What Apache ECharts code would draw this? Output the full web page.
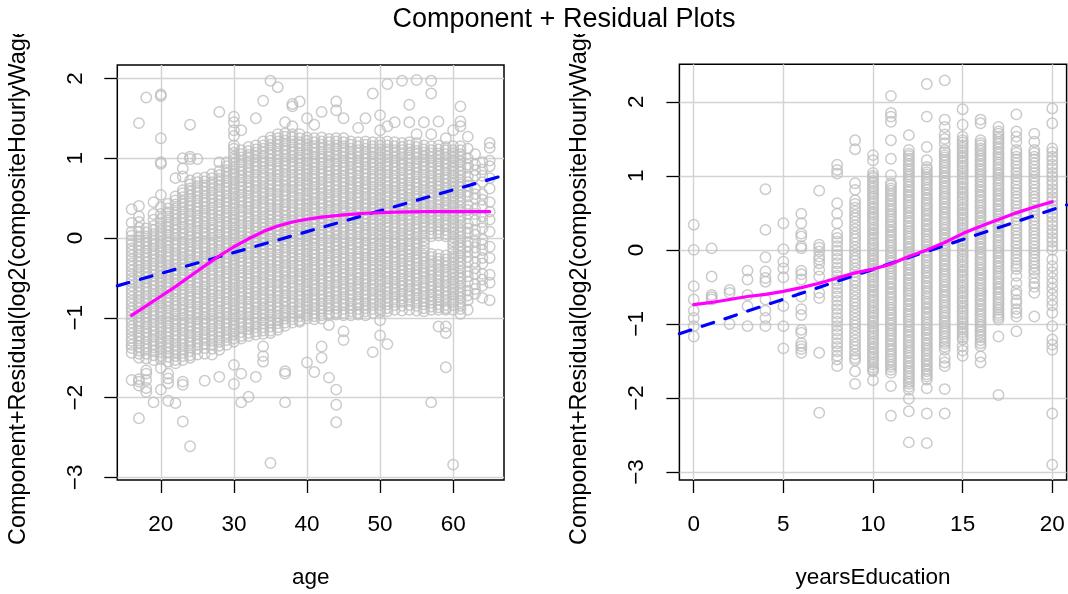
<!DOCTYPE html>
<html><head><meta charset="utf-8">
<script src="https://cdn.jsdelivr.net/npm/echarts@6/dist/echarts.min.js"></script>
<style>html,body{margin:0;padding:0;background:#fff}#c{width:1068px;height:594px}</style>
</head><body><div id="c"></div>
<script>
// ---------- data ----------
const titleText = 'Component + Residual Plots';
const yLabel = 'Component+Residual(log2(compositeHourlyWage))';
const ageName = 'age';
const eduName = 'yearsEducation';

const ageTicks = [20, 30, 40, 50, 60];
const ageYTicks = [-3, -2, -1, 0, 1, 2];
const eduTicks = [0, 5, 10, 15, 20];
const eduYTicks = [-3, -2, -1, 0, 1, 2];

// component+residual values, in hundredths, one list per age
const ageGroups = [16,17,18,19,20,21,22,23,24,25,26,27,28,29,30,31,32,33,34,35,36,37,38,39,40,41,42,43,44,45,46,47,48,49,50,51,52,53,54,55,56,57,58,59,60,61,62,63,64,65];
const ageResiduals100 = [
 [36,19,8,3,-3,-8,-13,-17,-22,-27,-32,-36,-41,-46,-51,-55,-60,-65,-69,-74,-79,-83,-88,-92,-97,-102,-106,-111,-115,-120,-125,-129,-134,-138,-144,-178],
 [144,40,27,20,13,8,2,-3,-8,-12,-17,-22,-27,-31,-36,-41,-46,-50,-55,-60,-65,-69,-74,-79,-84,-88,-93,-98,-103,-107,-112,-117,-122,-126,-131,-136,-141,-145,-150,-177,-180,-185,-226],
 [176,12,7,2,-3,-7,-12,-17,-22,-26,-31,-36,-41,-45,-50,-55,-60,-64,-69,-74,-79,-83,-88,-93,-98,-102,-107,-112,-117,-121,-126,-131,-136,-140,-145,-151,-166,-170,-178,-188,-193],
 [45,30,23,15,10,5,0,-4,-9,-14,-19,-23,-28,-33,-38,-42,-47,-52,-57,-61,-66,-71,-76,-80,-85,-90,-95,-99,-104,-109,-114,-118,-123,-128,-133,-137,-142,-147,-153,-206],
 [180,178,125,95,93,54,39,30,24,19,14,9,4,0,-5,-10,-15,-19,-24,-29,-34,-38,-43,-48,-53,-57,-62,-67,-72,-76,-81,-86,-91,-95,-100,-105,-110,-114,-119,-124,-129,-133,-138,-143,-148,-152,-163,-190],
 [43,37,32,27,22,17,13,8,3,-2,-6,-11,-16,-21,-25,-30,-35,-40,-44,-49,-54,-59,-63,-68,-73,-78,-82,-87,-92,-97,-101,-106,-111,-116,-120,-125,-130,-135,-139,-144,-149,-155,-170,-176,-182,-204],
 [75,52,47,42,37,32,28,23,18,13,9,4,-1,-6,-10,-15,-20,-25,-29,-34,-39,-44,-48,-53,-58,-63,-67,-72,-77,-82,-86,-91,-96,-101,-105,-110,-115,-120,-124,-129,-134,-139,-143,-148,-153,-157,-207],
 [100,87,77,60,56,51,46,42,37,32,27,23,18,13,8,4,-1,-6,-11,-15,-20,-25,-30,-34,-39,-44,-49,-53,-58,-63,-68,-72,-77,-82,-87,-91,-96,-101,-106,-110,-115,-120,-125,-129,-134,-139,-144,-148,-153,-180,-184,-230],
 [142,102,99,72,67,62,58,53,48,43,39,34,29,24,20,15,10,5,1,-4,-9,-14,-18,-23,-28,-33,-37,-42,-47,-52,-56,-61,-66,-71,-75,-80,-85,-90,-94,-99,-104,-109,-113,-118,-123,-128,-132,-137,-142,-147,-150,-261],
 [99,75,70,65,60,56,51,46,41,37,32,27,22,18,13,8,3,-1,-6,-11,-16,-20,-25,-30,-35,-39,-44,-49,-54,-58,-63,-68,-73,-77,-82,-87,-92,-96,-101,-106,-111,-115,-120,-125,-130,-134,-139,-146],
 [76,71,66,62,57,52,47,43,38,33,28,24,19,14,9,5,0,-5,-10,-14,-19,-24,-29,-33,-38,-43,-48,-52,-57,-62,-67,-71,-76,-81,-86,-90,-95,-100,-105,-109,-114,-119,-124,-128,-133,-138,-145,-179],
 [80,75,70,66,61,56,51,47,42,37,32,28,23,18,13,9,4,-1,-6,-10,-15,-20,-25,-29,-34,-39,-44,-48,-53,-58,-63,-67,-72,-77,-82,-86,-91,-96,-101,-105,-110,-115,-120,-124,-129,-134,-139,-146],
 [158,95,84,79,74,70,65,60,55,51,46,41,36,32,27,22,17,13,8,3,-2,-6,-11,-16,-21,-25,-30,-35,-40,-44,-49,-54,-59,-63,-68,-73,-78,-82,-87,-92,-97,-101,-106,-111,-116,-120,-125,-130,-135,-140,-174],
 [95,90,85,81,76,71,66,62,57,52,47,43,38,33,28,24,19,14,9,5,0,-5,-10,-14,-19,-24,-29,-33,-38,-43,-48,-52,-57,-62,-67,-71,-76,-81,-86,-90,-95,-100,-105,-109,-114,-119,-124,-128,-134],
 [152,145,135,128,116,112,107,102,98,93,88,83,79,74,69,64,60,55,50,45,41,36,31,26,22,17,12,7,3,-2,-7,-12,-16,-21,-26,-31,-35,-40,-45,-50,-54,-59,-64,-69,-73,-78,-83,-88,-92,-97,-102,-107,-111,-116,-121,-126,-130,-159,-183],
 [135,110,105,101,96,91,86,82,77,72,67,63,58,53,48,44,39,34,29,25,20,15,10,6,1,-4,-9,-13,-18,-23,-28,-32,-37,-42,-47,-51,-56,-61,-66,-70,-75,-80,-85,-89,-94,-99,-104,-108,-113,-118,-123,-126,-170,-206],
 [114,109,104,100,95,90,85,81,76,71,66,62,57,52,47,43,38,33,28,24,19,14,9,5,0,-5,-10,-14,-19,-24,-29,-33,-38,-43,-48,-52,-57,-62,-67,-71,-76,-81,-86,-90,-95,-100,-105,-109,-114,-119,-123,-199],
 [150,116,111,107,102,97,92,88,83,78,73,69,64,59,54,50,45,40,35,31,26,21,16,12,7,2,-3,-7,-12,-17,-22,-26,-31,-36,-41,-45,-50,-55,-60,-64,-69,-74,-79,-83,-88,-93,-98,-102,-107,-112,-117,-121,-174],
 [172,121,116,112,107,102,97,93,88,83,78,74,69,64,59,55,50,45,40,36,31,26,21,17,12,7,2,-2,-7,-12,-17,-21,-26,-31,-36,-40,-45,-50,-55,-59,-64,-69,-74,-78,-83,-88,-93,-97,-102,-107,-112,-116,-120,-136,-148,-155],
 [197,126,122,117,112,107,103,98,93,88,84,79,74,69,65,60,55,50,46,41,36,31,27,22,17,12,8,3,-2,-7,-11,-16,-21,-26,-30,-35,-40,-45,-49,-54,-59,-64,-68,-73,-78,-83,-87,-92,-97,-102,-106,-111,-116,-119,-282],
 [189,130,125,121,116,111,106,102,97,92,87,83,78,73,68,64,59,54,49,45,40,35,30,26,21,16,11,7,2,-3,-8,-12,-17,-22,-27,-31,-36,-41,-46,-50,-55,-60,-65,-69,-74,-79,-84,-88,-93,-98,-103,-107,-112,-115],
 [145,131,127,122,117,112,108,103,98,93,89,84,79,74,70,65,60,55,51,46,41,36,32,27,22,17,13,8,3,-2,-6,-11,-16,-21,-25,-30,-35,-40,-44,-49,-54,-59,-63,-68,-73,-78,-82,-87,-92,-97,-101,-106,-110,-167,-170,-206],
 [168,165,140,130,126,121,116,111,107,102,97,92,88,83,78,73,69,64,59,54,50,45,40,35,31,26,21,16,12,7,2,-3,-7,-12,-17,-22,-26,-31,-36,-41,-45,-50,-55,-60,-64,-69,-74,-79,-83,-88,-93,-98,-102,-106],
 [171,130,125,120,116,111,106,101,97,92,87,82,78,73,68,63,59,54,49,44,40,35,30,25,21,16,11,6,2,-3,-8,-13,-17,-22,-27,-32,-36,-41,-46,-51,-55,-60,-65,-70,-74,-79,-84,-89,-93,-98,-103,-105],
 [150,126,122,117,112,107,103,98,93,88,84,79,74,69,65,60,55,50,46,41,36,31,27,22,17,12,8,3,-2,-7,-11,-16,-21,-26,-30,-35,-40,-45,-49,-54,-59,-64,-68,-73,-78,-83,-87,-92,-97,-101,-156],
 [142,125,120,115,111,106,101,96,92,87,82,77,73,68,63,58,54,49,44,39,35,30,25,20,16,11,6,1,-3,-8,-13,-18,-22,-27,-32,-37,-41,-46,-51,-56,-60,-65,-70,-75,-79,-84,-89,-94,-98,-102,-168],
 [158,126,121,117,112,107,102,98,93,88,83,79,74,69,64,60,55,50,45,41,36,31,26,22,17,12,7,3,-2,-7,-12,-16,-21,-26,-31,-35,-40,-45,-50,-54,-59,-64,-69,-73,-78,-83,-88,-92,-97,-101,-136,-150],
 [124,120,115,110,105,101,96,91,86,82,77,72,67,63,58,53,48,44,39,34,29,25,20,15,10,6,1,-4,-9,-13,-18,-23,-28,-32,-37,-42,-47,-51,-56,-61,-66,-70,-75,-80,-85,-89,-94,-97,-109,-175],
 [171,160,125,121,116,111,106,102,97,92,87,83,78,73,68,64,59,54,49,45,40,35,30,26,21,16,11,7,2,-3,-8,-12,-17,-22,-27,-31,-36,-41,-46,-50,-55,-60,-65,-69,-74,-79,-84,-88,-93,-96,-190,-209,-231],
 [150,125,120,115,110,106,101,96,91,87,82,77,72,68,63,58,53,49,44,39,34,30,25,20,15,11,6,1,-4,-8,-13,-18,-23,-27,-32,-37,-42,-46,-51,-56,-61,-65,-70,-75,-80,-84,-89,-94,-97,-117,-128],
 [121,117,112,107,102,98,93,88,83,79,74,69,64,60,55,50,45,41,36,31,26,22,17,12,7,3,-2,-7,-12,-16,-21,-26,-31,-35,-40,-45,-50,-54,-59,-64,-69,-73,-78,-83,-88,-92,-97],
 [138,120,115,110,106,101,96,91,87,82,77,72,68,63,58,53,49,44,39,34,30,25,20,15,11,6,1,-4,-8,-13,-18,-23,-27,-32,-37,-42,-46,-51,-56,-61,-65,-70,-75,-80,-84,-89,-94,-96],
 [150,121,117,112,107,102,98,93,88,83,79,74,69,64,60,55,50,45,41,36,31,26,22,17,12,7,3,-2,-7,-12,-16,-21,-26,-31,-35,-40,-45,-50,-54,-59,-64,-69,-73,-78,-83,-88,-92,-97],
 [181,120,115,111,106,101,96,92,87,82,77,73,68,63,58,54,49,44,39,35,30,25,20,16,11,6,1,-3,-8,-13,-18,-22,-27,-32,-37,-41,-46,-51,-56,-60,-65,-70,-75,-79,-84,-89,-94,-143],
 [154,135,120,116,111,106,101,97,92,87,82,78,73,68,63,59,54,49,44,40,35,30,25,21,16,11,6,2,-3,-8,-13,-17,-22,-27,-32,-36,-41,-46,-51,-55,-60,-65,-70,-74,-79,-84,-89,-93,-103,-122],
 [193,140,121,116,111,107,102,97,92,88,83,78,73,69,64,59,54,50,45,40,35,31,26,21,16,12,7,2,-3,-7,-12,-17,-22,-26,-31,-36,-41,-45,-50,-55,-60,-64,-69,-74,-79,-83,-88,-92,-133],
 [145,120,115,110,106,101,96,91,87,82,77,72,68,63,58,53,49,44,39,34,30,25,20,15,11,6,1,-4,-8,-13,-18,-23,-27,-32,-37,-42,-46,-51,-56,-61,-65,-70,-75,-80,-84,-90],
 [197,119,114,110,105,100,95,91,86,81,76,72,67,62,57,53,48,43,38,34,29,24,19,15,10,5,0,-4,-9,-14,-19,-23,-28,-33,-38,-42,-47,-52,-57,-61,-66,-71,-76,-80,-85,-91],
 [167,145,120,116,111,106,101,97,92,87,82,78,73,68,63,59,54,49,44,40,35,30,25,21,16,11,6,2,-3,-8,-13,-17,-22,-27,-32,-36,-41,-46,-51,-55,-60,-65,-70,-74,-79,-84,-90],
 [198,130,119,114,109,105,100,95,90,86,81,76,71,67,62,57,52,48,43,38,33,29,24,19,14,10,5,0,-5,-9,-14,-19,-24,-28,-33,-38,-43,-47,-52,-57,-62,-66,-71,-76,-81,-85,-91],
 [145,116,111,107,102,97,92,88,83,78,73,69,64,59,54,50,45,40,35,31,26,21,16,12,7,2,-3,-7,-12,-17,-22,-26,-31,-36,-41,-45,-50,-55,-60,-64,-69,-74,-79,-83,-88,-92],
 [197,181,130,115,110,106,101,96,91,87,82,77,72,68,63,58,53,49,44,39,34,30,25,20,15,11,6,2,-20,-24,-29,-34,-39,-43,-48,-53,-58,-62,-67,-72,-77,-81,-86,-90,-206],
 [146,116,111,106,102,97,92,87,83,78,73,68,64,59,54,49,45,40,35,30,26,21,16,11,7,3,-21,-26,-30,-35,-40,-45,-49,-54,-59,-64,-68,-73,-78,-83,-87,-90,-111],
 [125,114,110,105,100,95,91,86,81,76,72,67,62,57,53,48,43,38,34,29,24,19,15,10,5,2,-22,-27,-31,-36,-41,-46,-50,-55,-60,-65,-69,-74,-79,-84,-88,-90,-111,-119,-162],
 [135,115,110,106,101,96,91,87,82,77,72,68,63,58,53,49,44,39,34,30,25,20,15,11,6,1,-4,-8,-13,-18,-23,-27,-32,-37,-42,-46,-51,-56,-61,-65,-70,-75,-80,-84,-90,-284],
 [165,146,140,115,110,105,101,96,91,86,82,77,72,67,63,58,53,48,44,39,34,29,25,20,15,10,6,1,-4,-9,-13,-18,-23,-28,-32,-37,-42,-47,-51,-56,-61,-66,-70,-75,-80,-85,-89,-95],
 [127,112,100,92,88,77,70,66,58,52,41,35,30,18,12,7,-5,-10,-17,-24,-30,-42,-48,-55,-66,-72,-78,-90],
 [105,92,85,78,62,55,50,36,30,22,10,4,-4,-12,-18,-30,-38,-45,-58,-64,-70],
 [95,86,78,70,55,48,40,27,20,12,-2,-8,-15,-25,-32,-45,-52,-60,-75],
 [119,113,97,90,75,62,45,33,23,8,-11,-25,-46,-56,-78]
];

// component+residual values, in hundredths, one list per year of education
const eduGroups = [0,1,2,3,4,5,6,7,8,9,10,11,12,13,14,15,16,17,18,19,20];
const eduResiduals100 = [
 [34,0,-49,-67,-82,-92,-103,-117],
 [2,-36,-61,-64,-67],
 [-54,-58,-100],
 [-28,-40,-61,-76,-103],
 [82,27,-10,-29,-38,-43,-67,-82,-92,-103],
 [36,1,-16,-25,-37,-76,-103,-133],
 [49,36,22,18,5,2,-28,-33,-40,-63,-80,-88,-108,-112,-126,-130,-134,-139],
 [80,7,3,-2,-9,-13,-18,-27,-36,-58,-65,-139,-220],
 [115,108,103,63,49,36,22,16,11,5,-1,-7,-12,-18,-24,-29,-35,-41,-46,-52,-58,-63,-69,-75,-80,-86,-92,-97,-103,-109,-114,-120,-126,-131,-137,-143,-148,-157],
 [148,136,90,81,67,62,57,52,47,43,38,33,28,23,18,14,9,4,-1,-6,-11,-15,-20,-25,-30,-35,-40,-44,-49,-54,-59,-64,-69,-73,-78,-83,-88,-93,-98,-102,-107,-112,-117,-122,-127,-131,-136,-141,-146,-149,-164,-181],
 [128,121,104,100,97,93,90,86,83,79,76,72,69,65,62,58,55,51,48,44,41,37,34,30,27,23,20,16,13,9,6,2,-1,-5,-8,-12,-15,-19,-22,-26,-29,-33,-36,-40,-43,-47,-50,-54,-57,-61,-64,-68,-71,-75,-78,-82,-85,-89,-92,-96,-99,-103,-106,-110,-113,-117,-120,-124,-127,-131,-134,-138,-141,-145,-148,-152,-155,-159,-162,-164,-176],
 [208,185,180,173,148,123,101,90,87,83,80,76,73,69,66,62,59,55,52,48,45,41,38,34,31,27,24,20,17,13,10,6,3,-1,-4,-8,-11,-15,-18,-22,-25,-29,-32,-36,-39,-43,-46,-50,-53,-57,-60,-64,-67,-71,-74,-78,-81,-85,-88,-92,-95,-99,-102,-106,-109,-113,-116,-120,-123,-127,-130,-134,-137,-141,-144,-148,-151,-155,-158,-162,-166,-184,-224],
 [155,135,130,127,123,120,116,113,109,106,102,99,95,92,88,85,81,78,74,71,67,64,60,57,53,50,46,43,39,36,32,29,25,22,18,15,11,8,4,1,-3,-6,-10,-13,-17,-20,-24,-27,-31,-34,-38,-41,-45,-48,-52,-55,-59,-62,-66,-69,-73,-76,-80,-83,-87,-90,-94,-97,-101,-104,-108,-111,-115,-118,-122,-125,-129,-132,-136,-139,-143,-146,-150,-153,-157,-160,-164,-167,-171,-174,-178,-181,-185,-189,-201,-218,-260],
 [224,180,139,121,112,109,105,102,98,95,91,88,84,81,77,74,70,67,63,60,56,53,49,46,42,39,35,32,28,25,21,18,14,11,7,4,0,-3,-7,-10,-14,-17,-21,-24,-28,-31,-35,-38,-42,-45,-49,-52,-56,-59,-63,-66,-70,-73,-77,-80,-84,-87,-91,-94,-98,-101,-105,-108,-112,-115,-119,-122,-126,-129,-133,-136,-140,-143,-147,-150,-154,-157,-161,-164,-168,-171,-175,-187,-221,-261],
 [229,176,166,156,150,144,135,132,128,125,121,118,114,111,107,104,100,97,93,90,86,83,79,76,72,69,65,62,58,55,51,48,44,41,37,34,30,27,23,20,16,13,9,6,2,-1,-5,-8,-12,-15,-19,-22,-26,-29,-33,-36,-40,-43,-47,-50,-54,-57,-61,-64,-68,-71,-75,-78,-82,-85,-89,-92,-96,-99,-103,-106,-110,-113,-117,-120,-124,-127,-131,-135,-146,-152,-157,-188,-221],
 [190,169,153,148,145,141,138,134,131,127,124,120,117,113,110,106,103,99,96,92,89,85,82,78,75,71,68,64,61,57,54,50,47,43,40,36,33,29,26,22,19,15,12,8,5,1,-2,-6,-9,-13,-16,-20,-23,-27,-30,-34,-37,-41,-44,-48,-51,-55,-58,-62,-65,-69,-72,-76,-79,-83,-86,-90,-93,-97,-100,-104,-107,-111,-114,-118,-121,-130,-136,-143],
 [176,171,148,144,141,137,134,130,127,123,120,116,113,109,106,102,99,95,92,88,85,81,78,74,71,67,64,60,57,53,50,46,43,39,36,32,29,25,22,18,15,11,8,4,1,-3,-6,-10,-13,-17,-20,-24,-27,-31,-34,-38,-41,-45,-48,-52,-55,-59,-62,-66,-69,-73,-76,-80,-83,-87,-90,-94,-97,-101,-104,-108,-111,-115,-118,-122,-126,-130,-144,-152],
 [166,160,157,153,150,146,143,139,136,132,129,125,122,118,115,111,108,104,101,97,94,90,87,83,80,76,73,69,66,62,59,55,52,48,45,41,38,34,31,27,24,20,17,13,10,6,3,-1,-4,-8,-11,-15,-18,-22,-25,-29,-32,-36,-39,-43,-46,-50,-53,-57,-60,-64,-67,-71,-74,-78,-81,-85,-88,-91,-94,-117,-196],
 [183,160,153,146,135,131,126,122,117,113,108,104,99,95,90,86,81,77,72,68,63,59,54,50,45,41,36,32,27,23,18,14,9,5,0,-4,-9,-13,-18,-22,-26,-35,-45,-55,-60,-68,-72,-80,-85,-90,-110],
 [157,146,135,131,126,122,117,113,108,104,99,95,90,86,81,77,72,68,63,59,54,50,45,41,36,32,27,23,18,14,9,5,0,-4,-9,-13,-18,-22,-27,-31,-38,-45,-50,-58,-90],
 [191,171,137,132,126,121,115,110,104,99,93,88,82,77,71,66,60,55,49,44,38,33,27,22,16,11,5,0,-13,-22,-30,-38,-45,-52,-60,-68,-75,-85,-103,-121,-128,-135,-221,-290]
];

// least-squares component lines (end points at the plot edges) and loess smooths
const ageFitX = [14.04, 66.96];
const ageFitY = [-0.60, 0.785];
const eduFitX = [-0.8, 20.8];
const eduFitY = [-1.134, 0.607];
const ageSmoothX = [16,18,20,22,24,26,28,30,32,33,34,36,38,40,42,45,48,52,56,60,65];
const ageSmoothY = [-0.97,-0.85,-0.73,-0.61,-0.48,-0.35,-0.225,-0.11,-0.01,0.035,0.08,0.15,0.2,0.235,0.262,0.29,0.31,0.325,0.33,0.33,0.33];
const eduSmoothX = [0,1,2,3,4,5,6,7,8,9,10,11,12,13,14,15,16,17,18,19,20];
const eduSmoothY = [-0.74,-0.71,-0.67,-0.63,-0.6,-0.56,-0.51,-0.45,-0.38,-0.31,-0.26,-0.19,-0.09,0.0,0.1,0.22,0.32,0.41,0.5,0.58,0.65];

// ---------- chart ----------
const FONT = '"Liberation Sans", Arial, Helvetica, sans-serif';
const FS = 22.5;
function columnsToPoints(xs, cols) {
  const out = [];
  xs.forEach((x, i) => cols[i].forEach(v => out.push([x, v / 100])));
  return out;
}
function zip(xs, ys) { return xs.map((x, i) => [x, ys[i]]); }
function minusFmt(v) { return String(v).replace('-', '\u2212'); }

const axisCommon = {
  type: 'value',
  axisLine: { show: false, onZero: false },
  splitLine: { show: true, lineStyle: { color: '#D3D3D3', width: 1.4 } },
  nameTextStyle: { fontFamily: FONT, fontSize: FS, color: '#000' }
};
function xAx(gridIndex, min, max, ticks, name) {
  return Object.assign({}, axisCommon, {
    gridIndex, min, max, name, nameLocation: 'middle', nameGap: 86,
    axisTick: { show: true, customValues: ticks, length: 13, lineStyle: { color: '#000', width: 1.3 } },
    axisLabel: { customValues: ticks, margin: 33, fontFamily: FONT, fontSize: FS, color: '#000', formatter: minusFmt }
  });
}
function yAx(gridIndex, min, max, ticks, margin) {
  return Object.assign({}, axisCommon, {
    gridIndex, min, max,
    axisTick: { show: true, customValues: ticks, length: 13, lineStyle: { color: '#000', width: 1.3 } },
    axisLabel: { customValues: ticks, rotate: 90, margin: margin, fontFamily: FONT, fontSize: FS, color: '#000', formatter: minusFmt }
  });
}
function scatter(idx, data) {
  return { type: 'scatter', xAxisIndex: idx, yAxisIndex: idx, data, symbol: 'circle', symbolSize: 10.4,
    itemStyle: { color: 'rgba(0,0,0,0)', borderColor: '#BEBEBE', borderWidth: 1.5 }, z: 2, silent: true };
}
function line(idx, data, color, dashed) {
  return { type: 'line', xAxisIndex: idx, yAxisIndex: idx, data, showSymbol: false, symbol: 'none', z: dashed ? 3 : 4,
    lineStyle: { color, width: 3.2, type: dashed ? [12, 12] : 'solid', cap: 'round' }, silent: true };
}
function yTitle(x) {
  return { type: 'text', z: 50, x: x, y: 545, rotation: Math.PI / 2, silent: true,
    style: { text: yLabel, textAlign: 'left', textVerticalAlign: 'bottom', font: '23.4px ' + FONT, fill: '#000' } };
}

const chart = echarts.init(document.getElementById('c'), null, { renderer: 'canvas' });
chart.setOption({
  animation: false,
  backgroundColor: '#ffffff',
  grid: [
    { left: 117.3, top: 65, width: 386.7, height: 415, show: true, borderColor: '#000', borderWidth: 1.5, backgroundColor: 'rgba(0,0,0,0)' },
    { left: 679.4, top: 64.2, width: 387.2, height: 416.1, show: true, borderColor: '#000', borderWidth: 1.5, backgroundColor: 'rgba(0,0,0,0)' }
  ],
  xAxis: [ xAx(0, 14.04, 66.96, ageTicks, ageName), xAx(1, -0.8, 20.8, eduTicks, eduName) ],
  yAxis: [ yAx(0, -3.033, 2.168, ageYTicks, 30), yAx(1, -3.108, 2.508, eduYTicks, 31) ],
  series: [
    scatter(0, columnsToPoints(ageGroups, ageResiduals100)),
    line(0, zip(ageFitX, ageFitY), '#0000FF', true),
    line(0, zip(ageSmoothX, ageSmoothY), '#FF00FF', false),
    scatter(1, columnsToPoints(eduGroups, eduResiduals100)),
    line(1, zip(eduFitX, eduFitY), '#0000FF', true),
    line(1, zip(eduSmoothX, eduSmoothY), '#FF00FF', false)
  ],
  graphic: [
    yTitle(30.5),
    yTitle(591.5),
    { type: 'rect', z: 100, shape: { x: 0, y: 0, width: 112, height: 34 }, style: { fill: '#ffffff' }, silent: true },
    { type: 'rect', z: 100, shape: { x: 556, y: 0, width: 64, height: 34 }, style: { fill: '#ffffff' }, silent: true },
    { type: 'text', z: 101, silent: true, style: { text: titleText, x: 564, y: 33.5, textAlign: 'center', textVerticalAlign: 'bottom',
      font: '27px ' + FONT, fill: '#000' } }
  ]
});
</script>
</body></html>
